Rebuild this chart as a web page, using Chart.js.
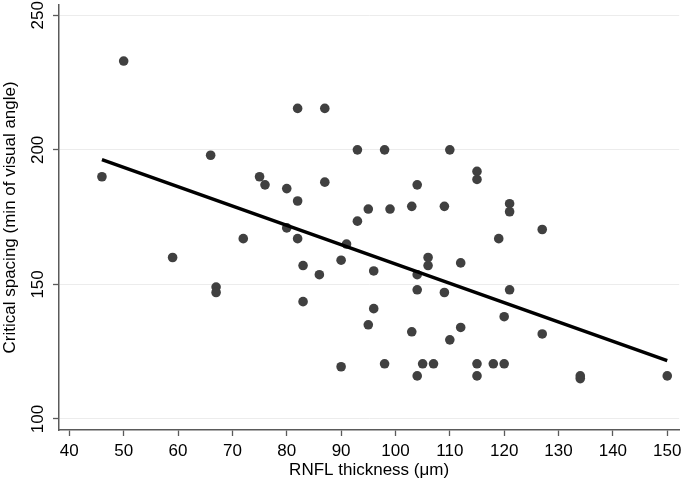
<!DOCTYPE html>
<html>
<head>
<meta charset="utf-8">
<script src="https://cdn.jsdelivr.net/npm/chart.js@4"></script>
<style>
  html, body { margin: 0; padding: 0; background: #fff; }
</style>
</head>
<body>
<canvas id="myScatter" width="684" height="481"></canvas>
<script>
// RNFL thickness (x) and critical spacing (y) for each eye
const rnfl = [46, 50, 59, 66, 67, 67, 72, 75, 76, 80, 80, 82, 82, 82, 83, 83, 86, 87, 87, 90, 90,
  91, 93, 93, 95, 95, 96, 96, 98, 98, 99, 103, 103, 104, 104, 104, 104, 105, 106, 106, 107,
  109, 109, 110, 110, 112, 112, 115, 115, 115, 115, 118, 119, 120, 120, 121, 121, 121, 127,
  127, 134, 134, 150];
const spacing = [190, 233, 160, 198, 149, 147, 167, 190, 187, 185.6, 171, 215.4, 181, 167, 157,
  143.6, 153.6, 215.4, 188, 159, 119.4, 165, 200, 173.5, 178, 135, 155, 141, 200, 120.5, 178,
  179, 132.4, 187, 153.6, 148, 116, 120.5, 160, 157, 120.5, 179, 147, 200, 129.4, 158, 134,
  192, 189, 120.5, 116, 120.5, 167, 138, 120.5, 180, 177, 148, 170.4, 131.6, 116, 115, 116];

// fitted regression line end points
const fitX = [46, 150];
const fitY = [196.4, 121.7];

const xTicks = [40, 50, 60, 70, 80, 90, 100, 110, 120, 130, 140, 150];
const yTicks = [100, 150, 200, 250];

const axisColor = '#5a5a5a';
const fontFamily = '"Liberation Sans", Arial, Helvetica, sans-serif';

const ctx = document.getElementById('myScatter').getContext('2d');

const myScatter = new Chart(ctx, {
    type: 'scatter',
    data: {
        datasets: [
            {
                type: 'line',
                data: fitX.map((x, i) => ({ x: x, y: fitY[i] })),
                borderColor: '#000000',
                borderWidth: 3.5,
                pointRadius: 0,
                fill: false,
            },
            {
                data: rnfl.map((x, i) => ({ x: x, y: spacing[i] })),
                backgroundColor: '#404040',
                borderWidth: 0,
                pointRadius: 4.8,
            },
        ],
    },
    options: {
        responsive: false,
        animation: false,
        layout: { padding: { top: 4, right: 3, left: 0, bottom: 0 } },
        plugins: {
            legend: { display: false },
            tooltip: { enabled: false },
        },
        scales: {
            x: {
                type: 'linear',
                min: 38.1,
                max: 152.2,
                afterBuildTicks: (scale) => { scale.ticks = xTicks.map(v => ({ value: v })); },
                afterFit: (scale) => {
                    scale.height = 51;
                    scale.paddingLeft = 0;
                    scale.paddingRight = 0;
                },
                border: { color: axisColor, width: 1.5 },
                grid: { drawOnChartArea: false, tickLength: 6, tickColor: axisColor, tickWidth: 1.3 },
                ticks: {
                    color: '#000',
                    padding: 5,
                    maxRotation: 0,
                    font: { family: fontFamily, size: 17 },
                },
                title: {
                    display: true,
                    text: 'RNFL thickness (\u03BCm)',
                    color: '#000',
                    font: { family: fontFamily, size: 17 },
                    padding: { top: 0, bottom: 0 },
                },
            },
            y: {
                type: 'linear',
                min: 95.9,
                max: 253.9,
                afterBuildTicks: (scale) => { scale.ticks = yTicks.map(v => ({ value: v })); },
                afterFit: (scale) => {
                    scale.width = 59;
                    scale.paddingTop = 0;
                    scale.paddingBottom = 0;
                },
                border: { color: axisColor, width: 1.5 },
                grid: { color: '#ececec', lineWidth: 1, tickLength: 6, tickColor: axisColor, tickWidth: 1.3 },
                ticks: {
                    color: '#000',
                    padding: 1,
                    minRotation: 90,
                    maxRotation: 90,
                    crossAlign: 'center',
                    font: { family: fontFamily, size: 17 },
                },
                title: {
                    display: true,
                    text: 'Critical spacing (min of visual angle)',
                    color: '#000',
                    font: { family: fontFamily, size: 17 },
                    padding: { top: 0, bottom: 0 },
                },
            },
        },
    },
});
</script>
</body>
</html>
